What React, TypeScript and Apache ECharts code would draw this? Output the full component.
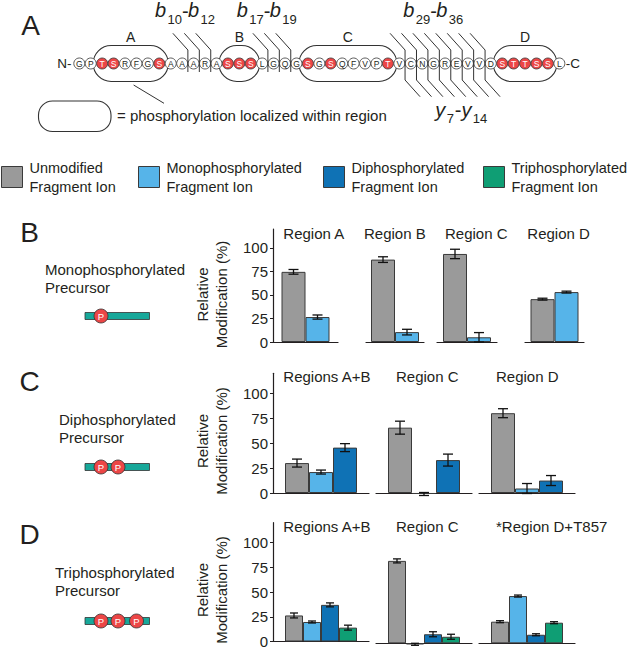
import React, { useEffect, useRef } from 'react';
import * as echarts from 'echarts';

// ---------------- data ----------------
const FRAGMENT_TYPES = [
  'Unmodified Fragment Ion',
  'Monophosphorylated Fragment Ion',
  'Diphosphorylated Fragment Ion',
  'Triphosphorylated Fragment Ion',
];
const FRAGMENT_COLORS = ['#9A9A9A', '#56B4E9', '#0F72B5', '#0F9E74'];
const Y_TICKS = [0, 25, 50, 75, 100];

// Panel A: peptide
const SEQUENCE = 'GPTSRFGSAAARASSSLGQGSGSQFVPTVCNGREVVDSTTSSL';
const PHOSPHO_SITES = [3, 4, 8, 14, 15, 16, 21, 23, 28, 38, 39, 40, 41, 42];
const REGION_NAMES = ['A', 'B', 'C', 'D'];
const REGION_STARTS = [3, 14, 21, 38];
const REGION_ENDS = [8, 16, 28, 42];
const B_ION_FIRST = [10, 17, 29];
const B_ION_LAST = [12, 19, 36];
const Y_ION_FIRST = 7;
const Y_ION_LAST = 14;

// Panel B: monophosphorylated precursor
const monoRegions = ['Region A', 'Region B', 'Region C', 'Region D'];
const monoUnmodified = [74.5, 87.5, 93.5, 45.5];
const monoUnmodifiedErr = [2.5, 3, 5, 1];
const monoMono = [26.5, 10.5, 5, 53];
const monoMonoErr = [2.2, 3, 5, 1];

// Panel C: diphosphorylated precursor
const diRegions = ['Regions A+B', 'Region C', 'Region D'];
const diUnmodified = [30, 65.5, 80];
const diUnmodifiedErr = [4, 6.5, 4.5];
const diMono = [21, -1, 4.5];
const diMonoErr = [2, 1.5, 5];
const diDi = [45.5, 33, 12.5];
const diDiErr = [4, 6, 5];

// Panel D: triphosphorylated precursor
const triRegions = ['Regions A+B', 'Region C', '*Region D+T857'];
const triUnmodified = [26.3, 82, 21.5];
const triUnmodifiedErr = [2.5, 2, 1];
const triMono = [19.7, -1, 47];
const triMonoErr = [1, 1, 1];
const triDi = [37, 9, 8.5];
const triDiErr = [2, 2.5, 1];
const triTri = [14, 6.5, 20.5];
const triTriErr = [2.5, 2.5, 1];

const PRECURSOR_LABELS = [
  'Monophosphorylated\nPrecursor',
  'Diphosphorylated\nPrecursor',
  'Triphosphorylated\nPrecursor',
];

// ---------------- layout ----------------
const FONT = 'Liberation Sans, Arial, sans-serif';
const INK = '#231F20';
const LINE = '#333333';
const RED = '#EC4646';
const TEAL = '#17A89A';

const PANELS = [
  {
    letter: 'B', letterY: 232.5,
    regions: monoRegions,
    values: [monoUnmodified, monoMono],
    errors: [monoUnmodifiedErr, monoMonoErr],
    top: 229, height: 113,
    facets: [[273, 65], [366, 58], [437, 60], [525, 59]],
    titleX: [283.3, 364, 445, 527.3], titleY: 233,
    barWidth: 24, cap: 10,
    labelX: 45, labelY: 278, iconY: 316, phospho: 1,
    yTitleY: 294.5,
  },
  {
    letter: 'C', letterY: 381,
    regions: diRegions,
    values: [diUnmodified, diMono, diDi],
    errors: [diUnmodifiedErr, diMonoErr, diDiErr],
    top: 373.3, height: 119.7,
    facets: [[273, 96], [376, 96], [479, 96]],
    titleX: [283.3, 396, 496], titleY: 376,
    barWidth: 24, cap: 10,
    labelX: 59, labelY: 428.7, iconY: 467, phospho: 2,
    yTitleY: 441,
  },
  {
    letter: 'D', letterY: 534,
    regions: triRegions,
    values: [triUnmodified, triMono, triDi, triTri],
    errors: [triUnmodifiedErr, triMonoErr, triDiErr, triTriErr],
    top: 522.7, height: 120.6,
    facets: [[273, 96], [376, 96], [479, 96]],
    titleX: [283.3, 396, 496], titleY: 526.7,
    barWidth: 18, cap: 8,
    labelX: 55, labelY: 581.5, iconY: 621, phospho: 3,
    yTitleY: 590,
  },
];

const SEQ_X0 = 79.3;
const SEQ_DX = 11.43;
const SEQ_Y = 63.5;
const LEGEND_LEFT = [1, 138, 323, 483];

function txt(text: string, x: number, y: number, size: number, extra: any = {}) {
  const { align = 'left', vAlign = 'middle', fill = INK, italic = false, rotation, lineHeight } = extra;
  const el: any = {
    type: 'text',
    x,
    y,
    silent: true,
    style: {
      text,
      fontSize: size,
      fontFamily: FONT,
      fontStyle: italic ? 'italic' : 'normal',
      fill,
      align,
      verticalAlign: vAlign,
    },
  };
  if (lineHeight) el.style.lineHeight = lineHeight;
  if (rotation !== undefined) el.rotation = rotation;
  return el;
}

function buildGraphics() {
  const g: any[] = [];
  const resX = (i: number) => SEQ_X0 + (i - 1) * SEQ_DX;

  // panel letters
  g.push(txt('A', 30.5, 25, 28, { align: 'center' }));
  PANELS.forEach((p) => g.push(txt(p.letter, 29.5, p.letterY, 28, { align: 'center' })));

  // region boxes
  REGION_STARTS.forEach((s, r) => {
    const x0 = resX(s) - 9;
    const x1 = resX(REGION_ENDS[r]) + 9;
    g.push({
      type: 'rect', silent: true,
      shape: { x: x0, y: 45.5, width: x1 - x0, height: 36, r: 18 },
      style: { fill: 'none', stroke: LINE, lineWidth: 1.1 },
    });
    g.push(txt(REGION_NAMES[r], (x0 + x1) / 2, 37, 14, { align: 'center' }));
  });

  // residues
  SEQUENCE.split('').forEach((aa, idx) => {
    const i = idx + 1;
    const p = PHOSPHO_SITES.includes(i);
    g.push({
      type: 'circle', silent: true,
      shape: { cx: resX(i), cy: SEQ_Y, r: 5.5 },
      style: { fill: p ? RED : '#ffffff', stroke: LINE, lineWidth: 0.8 },
    });
    g.push(txt(aa, resX(i), SEQ_Y + 0.3, 8.5, { align: 'center', fill: p ? '#ffffff' : INK }));
  });
  g.push(txt('N-', 71.5, SEQ_Y, 13.5, { align: 'right' }));
  g.push(txt('-C', resX(SEQUENCE.length) + 6.5, SEQ_Y, 13.5));

  // fragment cleavage lines
  B_ION_FIRST.forEach((first, gi) => {
    const last = B_ION_LAST[gi];
    const withY = gi === 2;
    for (let i = first; i <= last; i++) {
      const xc = resX(i) + SEQ_DX / 2;
      const pts = withY
        ? [[xc - 15, 33.3], [xc, 50], [xc, 80], [xc + 15, 96.7]]
        : [[xc - 15, 33.3], [xc, 50], [xc, 72]];
      g.push({
        type: 'polyline', silent: true,
        shape: { points: pts },
        style: { stroke: LINE, lineWidth: 1, fill: null },
      });
    }
  });

  // ion labels  b_first - b_last
  const bStarts = [155, 236.7, 403.3];
  B_ION_FIRST.forEach((first, gi) => {
    const x = bStarts[gi];
    g.push(txt('b', x, 9.6, 20, { italic: true }));
    g.push(txt(String(first), x + 12.5, 19.5, 13));
    g.push(txt('-', x + 27, 10.5, 20));
    g.push(txt('b', x + 33, 9.6, 20, { italic: true }));
    g.push(txt(String(B_ION_LAST[gi]), x + 45.5, 19.5, 13));
  });
  {
    const x = 435.2;
    g.push(txt('y', x, 110, 20, { italic: true }));
    g.push(txt(String(Y_ION_FIRST), x + 11.5, 118, 13));
    g.push(txt('-', x + 19.5, 110, 20));
    g.push(txt('y', x + 26.3, 110, 20, { italic: true }));
    g.push(txt(String(Y_ION_LAST), x + 37.5, 118, 13));
  }

  // localisation key
  g.push({
    type: 'line', silent: true,
    shape: { x1: 133.6, y1: 85, x2: 164, y2: 103.3 },
    style: { stroke: LINE, lineWidth: 1 },
  });
  g.push({
    type: 'rect', silent: true,
    shape: { x: 38.5, y: 101, width: 72.5, height: 30.5, r: 14 },
    style: { fill: 'none', stroke: LINE, lineWidth: 1.1 },
  });
  g.push(txt('= phosphorylation localized within region', 117, 115.5, 15));

  // precursor descriptions + icons + axis titles + facet titles
  PANELS.forEach((p) => {
    g.push(txt(PRECURSOR_LABELS[p.phospho - 1], p.labelX, p.labelY, 15, { lineHeight: 18 }));
    g.push({
      type: 'rect', silent: true,
      shape: { x: 85, y: p.iconY - 3.5, width: 64.5, height: 7 },
      style: { fill: TEAL, stroke: LINE, lineWidth: 0.8 },
    });
    const cxs = [101, 118, 136.5];
    for (let k = 0; k < p.phospho; k++) {
      g.push({
        type: 'circle', silent: true,
        shape: { cx: cxs[k], cy: p.iconY, r: 7 },
        style: { fill: RED, stroke: LINE, lineWidth: 0.8 },
      });
      g.push(txt('P', cxs[k], p.iconY + 0.5, 9.5, { align: 'center', fill: '#ffffff' }));
    }
    g.push(txt('Relative\nModification (%)', 211.5, p.yTitleY, 15, {
      align: 'center', rotation: Math.PI / 2, lineHeight: 19,
    }));
    p.regions.forEach((r, ri) => g.push(txt(r, p.titleX[ri], p.titleY, 15)));
  });

  return g;
}

function buildOption() {
  const grid: any[] = [];
  const xAxis: any[] = [];
  const yAxis: any[] = [];
  const series: any[] = [];
  let gi = 0;

  PANELS.forEach((p) => {
    const n = p.values.length;
    const bw = p.barWidth;
    const cap = p.cap;
    p.regions.forEach((region, ri) => {
      const [left, width] = p.facets[ri];
      grid.push({ left, top: p.top, width, height: p.height, containLabel: false });
      xAxis.push({
        type: 'category', gridIndex: gi, data: [region],
        axisLine: { show: true, onZero: true, lineStyle: { color: INK, width: 1.2 } },
        axisTick: { show: false }, axisLabel: { show: false }, splitLine: { show: false },
      });
      const first = ri === 0;
      yAxis.push({
        type: 'value', gridIndex: gi, min: 0, max: 120, interval: 25, show: first,
        axisLine: { show: true, lineStyle: { color: INK, width: 1.2 } },
        axisTick: { show: true, length: 3, customValues: Y_TICKS, lineStyle: { color: INK, width: 1 } },
        axisLabel: {
          show: true, customValues: Y_TICKS, margin: 5, fontSize: 15, fontFamily: FONT, color: INK,
          formatter: (v: number) => (Y_TICKS.includes(v) ? String(v) : ''),
        },
        splitLine: { show: false },
      });
      p.values.forEach((vals, k) => {
        series.push({
          type: 'bar', name: FRAGMENT_TYPES[k], xAxisIndex: gi, yAxisIndex: gi,
          data: [vals[ri]], barWidth: bw, barGap: '0%', clip: false,
          itemStyle: { color: FRAGMENT_COLORS[k], borderColor: '#3A3A3A', borderWidth: 1 },
          emphasis: { disabled: true },
        });
      });
      series.push({
        type: 'custom', name: 'error', xAxisIndex: gi, yAxisIndex: gi, clip: false, z: 5, silent: true,
        data: p.values.map((vals, k) => [0, k, vals[ri] - p.errors[k][ri], vals[ri] + p.errors[k][ri]]),
        encode: { x: 0, y: [2, 3] },
        renderItem: (params: any, api: any) => {
          const k = api.value(1);
          const lo = api.coord([0, api.value(2)]);
          const hi = api.coord([0, api.value(3)]);
          const x = lo[0] + (k - (n - 1) / 2) * bw;
          const c = cap / 2;
          const style = { stroke: '#111111', lineWidth: 1.3 };
          return {
            type: 'group',
            children: [
              { type: 'line', shape: { x1: x, y1: lo[1], x2: x, y2: hi[1] }, style },
              { type: 'line', shape: { x1: x - c, y1: lo[1], x2: x + c, y2: lo[1] }, style },
              { type: 'line', shape: { x1: x - c, y1: hi[1], x2: x + c, y2: hi[1] }, style },
            ],
          };
        },
      });
      gi++;
    });
  });

  const legend = FRAGMENT_TYPES.map((name, k) => ({
    data: [name],
    left: LEGEND_LEFT[k],
    top: 158,
    padding: 0,
    selectedMode: false,
    icon: 'rect',
    itemWidth: 21,
    itemHeight: 21,
    itemStyle: { borderColor: '#3A3A3A', borderWidth: 1 },
    formatter: (nm: string) => nm.replace(' Fragment', '\nFragment'),
    textStyle: { fontSize: 14.5, fontFamily: FONT, color: INK, lineHeight: 19, padding: [0, 0, 0, 2] },
  }));

  return {
    animation: false,
    backgroundColor: '#ffffff',
    textStyle: { fontFamily: FONT },
    grid, xAxis, yAxis, series, legend,
    graphic: { elements: buildGraphics() },
  };
}

export default function App() {
  const ref = useRef<HTMLDivElement>(null);
  useEffect(() => {
    if (!ref.current) return;
    const chart = echarts.init(ref.current, null, { renderer: 'svg' });
    chart.setOption(buildOption() as any);
    return () => chart.dispose();
  }, []);
  return (
    <div
      ref={ref}
      style={{ position: 'fixed', left: 0, top: 0, width: 631, height: 649, background: '#fff' }}
    />
  );
}
